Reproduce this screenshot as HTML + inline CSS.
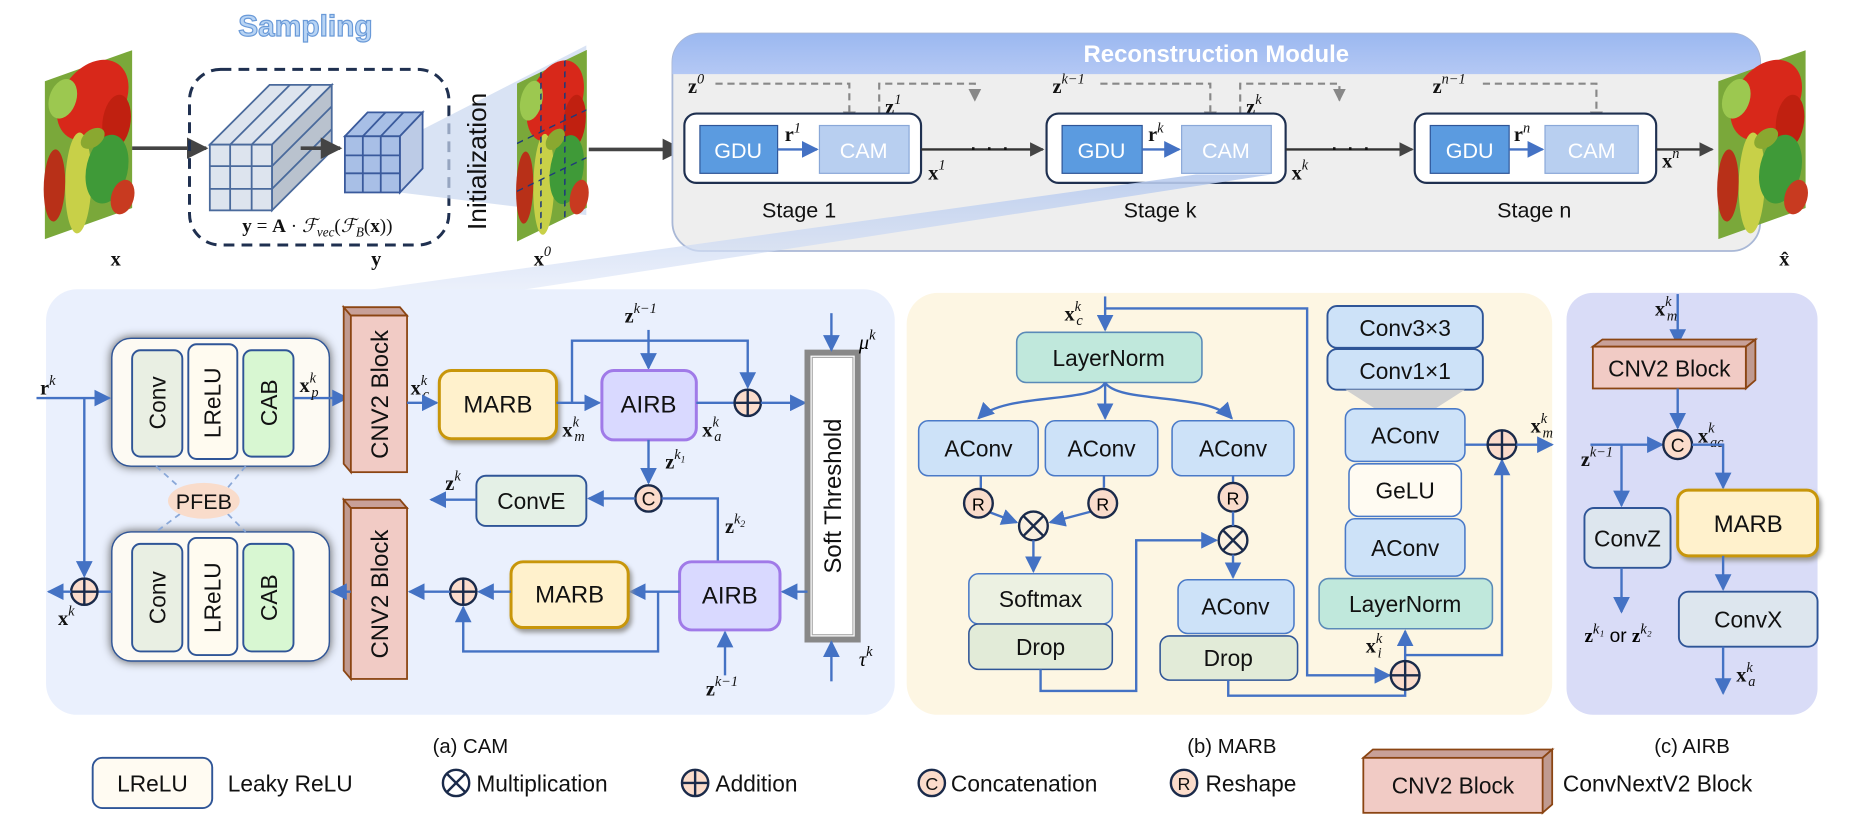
<!DOCTYPE html>
<html><head><meta charset="utf-8"><style>
html,body{margin:0;padding:0;background:#fff;}
svg{display:block;}
.t{font-family:"Liberation Sans",sans-serif;fill:#111;}
.m{font-family:"Liberation Serif",serif;font-weight:bold;fill:#111;font-size:17px;}
.mi{font-family:"Liberation Serif",serif;font-style:italic;font-weight:normal;font-size:12px;}
.ln{stroke:#4472c4;stroke-width:2;fill:none;}
.bx{stroke:#2f5597;stroke-width:1.6;}
</style></head><body>
<svg width="1866" height="820" viewBox="0 0 1560 686" xmlns="http://www.w3.org/2000/svg">
<defs>
<marker id="a" viewBox="0 0 10 10" refX="9" refY="5" markerWidth="7" markerHeight="7" orient="auto-start-reverse"><path d="M0,0L10,5L0,10z" fill="#4472c4"/></marker>
<marker id="ad" viewBox="0 0 10 10" refX="9" refY="5" markerWidth="6" markerHeight="6" orient="auto"><path d="M0,0L10,5L0,10z" fill="#444"/></marker>
<marker id="ag" viewBox="0 0 10 10" refX="9" refY="5" markerWidth="6" markerHeight="6" orient="auto"><path d="M0,0L10,5L0,10z" fill="#888"/></marker>
<g id="pep">
<rect x="0" y="0" width="73" height="132" fill="#7aa83a"/>
<ellipse cx="40" cy="30" rx="30" ry="32" fill="#d8281a"/>
<ellipse cx="60" cy="55" rx="12" ry="22" fill="#c02010"/>
<ellipse cx="15" cy="20" rx="12" ry="16" fill="#9cc850"/>
<ellipse cx="28" cy="95" rx="11" ry="42" fill="#c8d048"/>
<ellipse cx="52" cy="92" rx="18" ry="28" fill="#3f9a38"/>
<ellipse cx="8" cy="90" rx="9" ry="30" fill="#b83018"/>
<ellipse cx="65" cy="120" rx="10" ry="14" fill="#c83a20"/>
<ellipse cx="40" cy="62" rx="10" ry="8" fill="#8aa830"/>
</g>
<linearGradient id="hd" x1="0" y1="0" x2="0" y2="1"><stop offset="0" stop-color="#9bb8f0"/><stop offset="1" stop-color="#b4c8f4"/></linearGradient>
<linearGradient id="wedge" x1="0" y1="0" x2="0" y2="1"><stop offset="0" stop-color="#b8cbee" stop-opacity=".9"/><stop offset="1" stop-color="#dfe7f8" stop-opacity=".6"/></linearGradient>
</defs>

<!-- ================= TOP ================= -->
<g transform="translate(37,68) skewY(-19.6)"><use href="#pep"/></g>
<text class="m" x="92" y="222">x</text>
<line x1="110" y1="124" x2="172" y2="124" stroke="#444" stroke-width="3" marker-end="url(#ad)"/>

<text x="255" y="30" text-anchor="middle" font-family="Liberation Sans,sans-serif" font-size="25" font-weight="bold" fill="#b8d4f4" stroke="#6a9ad8" stroke-width="1">Sampling</text>
<rect x="158" y="58" width="217" height="147" rx="26" fill="none" stroke="#1f3050" stroke-width="2.5" stroke-dasharray="9,6"/>

<!-- big cube -->
<g stroke="#4a6a9c" stroke-width="1.5">
<polygon points="175,121 227,121 277,71 225,71" fill="#dde4ee"/>
<polygon points="227,121 277,71 277,126 227,176" fill="#b9c2ce"/>
<rect x="175" y="121" width="52" height="55" fill="#dde4ee"/>
<line x1="192" y1="121" x2="192" y2="176"/><line x1="210" y1="121" x2="210" y2="176"/>
<line x1="175" y1="139" x2="227" y2="139"/><line x1="175" y1="158" x2="227" y2="158"/>
<line x1="192" y1="121" x2="242" y2="71"/><line x1="210" y1="121" x2="260" y2="71"/>
<line x1="227" y1="139" x2="277" y2="89"/><line x1="227" y1="158" x2="277" y2="108"/>
</g>
<line x1="251" y1="124" x2="284" y2="124" stroke="#444" stroke-width="3" marker-end="url(#ad)"/>
<!-- projection -->
<polygon points="334,118 490,38 490,180 334,161" fill="#c9d7f0" opacity=".7"/>
<!-- small cube -->
<g stroke="#3a5a9c" stroke-width="1.5">
<polygon points="288,114 334,114 353,94 307,94" fill="#a8bfe6"/>
<polygon points="334,114 353,94 353,141 334,161" fill="#bccbe6"/>
<rect x="288" y="114" width="46" height="47" fill="#a8bfe6"/>
<line x1="303" y1="114" x2="303" y2="161"/><line x1="318" y1="114" x2="318" y2="161"/>
<line x1="288" y1="130" x2="334" y2="130"/><line x1="288" y1="145" x2="334" y2="145"/>
<line x1="303" y1="114" x2="322" y2="94"/><line x1="318" y1="114" x2="337" y2="94"/>
</g>
<text x="265" y="194" text-anchor="middle" font-family="Liberation Serif,serif" font-size="16" fill="#111"><tspan font-weight="bold">y</tspan> = <tspan font-weight="bold">A</tspan> · <tspan font-style="italic">ℱ</tspan><tspan font-size="11" font-style="italic" dy="4">vec</tspan><tspan dy="-4">(</tspan><tspan font-style="italic">ℱ</tspan><tspan font-size="11" font-style="italic" dy="4">B</tspan><tspan dy="-4">(</tspan><tspan font-weight="bold">x</tspan>))</text>
<text class="m" x="310" y="222">y</text>
<text transform="translate(406,135) rotate(-90)" text-anchor="middle" class="t" font-size="22">Initialization</text>

<!-- x0 image -->
<g transform="translate(432,70) skewY(-25.8)"><use href="#pep" transform="scale(0.8,1)"/>
<g stroke="#1f3a7a" stroke-width="1.3" stroke-dasharray="5,4" fill="none"><line x1="20" y1="0" x2="20" y2="132"/><line x1="40" y1="0" x2="40" y2="132"/><line x1="0" y1="50" x2="58" y2="50"/><line x1="0" y1="90" x2="58" y2="90"/></g></g>
<text class="m" x="446" y="222">x<tspan class="mi" dy="-8">0</tspan></text>
<line x1="492" y1="125" x2="570" y2="125" stroke="#444" stroke-width="3" marker-end="url(#ad)"/>

<!-- Reconstruction module -->
<rect x="562" y="28" width="910" height="182" rx="24" fill="#eeeeee" stroke="#a9b8d6" stroke-width="1.5"/>
<path d="M562,62 V52 a24,24 0 0 1 24,-24 H1448 a24,24 0 0 1 24,24 V62 Z" fill="url(#hd)"/>
<text x="1017" y="52" text-anchor="middle" font-family="Liberation Sans,sans-serif" font-weight="bold" font-size="20" fill="#fff">Reconstruction Module</text>

<g stroke="#888" stroke-width="1.8" stroke-dasharray="6,4" fill="none">
<path d="M598,70 H710 V103" marker-end="url(#ag)"/>
<path d="M735,105 V70 H815 V84" marker-end="url(#ag)"/>
<path d="M920,70 H1012 V103" marker-end="url(#ag)"/>
<path d="M1037,105 V70 H1120 V84" marker-end="url(#ag)"/>
<path d="M1240,70 H1335 V103" marker-end="url(#ag)"/>
</g>
<text class="m" x="575" y="78">z<tspan class="mi" dy="-8">0</tspan></text>
<text class="m" x="740" y="95">z<tspan class="mi" dy="-8">1</tspan></text>
<text class="m" x="880" y="78">z<tspan class="mi" dy="-8">k−1</tspan></text>
<text class="m" x="1042" y="95">z<tspan class="mi" dy="-8">k</tspan></text>
<text class="m" x="1198" y="78">z<tspan class="mi" dy="-8">n−1</tspan></text>

<g>
<rect x="572" y="95" width="198" height="58" rx="10" fill="#fff" stroke="#1f3050" stroke-width="1.8"/>
<rect x="585" y="105" width="65" height="40" fill="#5b9be0" stroke="#2f5597"/><text x="617" y="132" text-anchor="middle" class="t" font-size="18" style="fill:#fff">GDU</text>
<line x1="650" y1="125" x2="683" y2="125" class="ln" marker-end="url(#a)"/>
<text class="m" x="656" y="118" font-size="14">r<tspan class="mi" dy="-7">1</tspan></text>
<rect x="685" y="105" width="75" height="40" fill="#b8cff0" stroke="#8aa8d8"/><text x="722" y="132" text-anchor="middle" class="t" font-size="18" style="fill:#fff">CAM</text>
<line x1="770" y1="125" x2="872" y2="125" stroke="#333" stroke-width="2" marker-end="url(#ad)"/>
<text class="m" x="776" y="150">x<tspan class="mi" dy="-8">1</tspan></text>
<text x="810" y="130" class="t" font-size="22">· · ·</text>
<text x="668" y="182" text-anchor="middle" class="t" font-size="18">Stage 1</text>

<rect x="875" y="95" width="200" height="58" rx="10" fill="#fff" stroke="#1f3050" stroke-width="1.8"/>
<rect x="888" y="105" width="67" height="40" fill="#5b9be0" stroke="#2f5597"/><text x="921" y="132" text-anchor="middle" class="t" font-size="18" style="fill:#fff">GDU</text>
<line x1="955" y1="125" x2="986" y2="125" class="ln" marker-end="url(#a)"/>
<text class="m" x="960" y="118" font-size="14">r<tspan class="mi" dy="-7">k</tspan></text>
<rect x="988" y="105" width="75" height="40" fill="#b8cff0" stroke="#8aa8d8"/><text x="1025" y="132" text-anchor="middle" class="t" font-size="18" style="fill:#fff">CAM</text>
<line x1="1075" y1="125" x2="1181" y2="125" stroke="#333" stroke-width="2" marker-end="url(#ad)"/>
<text class="m" x="1080" y="150">x<tspan class="mi" dy="-8">k</tspan></text>
<text x="1112" y="130" class="t" font-size="22">· · ·</text>
<text x="970" y="182" text-anchor="middle" class="t" font-size="18">Stage k</text>

<rect x="1183" y="95" width="202" height="58" rx="10" fill="#fff" stroke="#1f3050" stroke-width="1.8"/>
<rect x="1196" y="105" width="66" height="40" fill="#5b9be0" stroke="#2f5597"/><text x="1229" y="132" text-anchor="middle" class="t" font-size="18" style="fill:#fff">GDU</text>
<line x1="1262" y1="125" x2="1290" y2="125" class="ln" marker-end="url(#a)"/>
<text class="m" x="1266" y="118" font-size="14">r<tspan class="mi" dy="-7">n</tspan></text>
<rect x="1292" y="105" width="78" height="40" fill="#b8cff0" stroke="#8aa8d8"/><text x="1331" y="132" text-anchor="middle" class="t" font-size="18" style="fill:#fff">CAM</text>
<line x1="1385" y1="125" x2="1432" y2="125" stroke="#333" stroke-width="2" marker-end="url(#ad)"/>
<text class="m" x="1390" y="140">x<tspan class="mi" dy="-8">n</tspan></text>
<text x="1283" y="182" text-anchor="middle" class="t" font-size="18">Stage n</text>
</g>
<g transform="translate(1437,68) skewY(-19.6)"><use href="#pep"/></g>
<text class="m" x="1488" y="222">x̂</text>

<polygon points="1000,146 1063,146 420,245 290,245" fill="url(#wedge)"/>

<!-- ================= PANELS ================= -->
<rect x="38" y="242" width="710" height="356" rx="26" fill="#eaf0fd"/>
<rect x="758" y="245" width="540" height="353" rx="26" fill="#fdf6e3"/>
<rect x="1310" y="245" width="210" height="353" rx="22" fill="#d9dcf7"/>

<!-- ===== CAM ===== -->
<g>
<rect x="93" y="283" width="182" height="107" rx="16" fill="#fdfaf3" stroke="#2f5597" stroke-width="1.2" style="filter:drop-shadow(0 0 4px #555)"/>
<rect x="110" y="293" width="42" height="89" rx="7" fill="#e9efe3" class="bx"/>
<rect x="157" y="288" width="41" height="96" rx="7" fill="#fffbf0" class="bx"/>
<rect x="203" y="293" width="42" height="89" rx="7" fill="#d8f7d2" class="bx"/>
<text transform="translate(138,337) rotate(-90)" text-anchor="middle" class="t" font-size="19">Conv</text>
<text transform="translate(184,337) rotate(-90)" text-anchor="middle" class="t" font-size="19">LReLU</text>
<text transform="translate(231,337) rotate(-90)" text-anchor="middle" class="t" font-size="19">CAB</text>
</g>
<g>
<rect x="93" y="445" width="182" height="108" rx="16" fill="#fdfaf3" stroke="#2f5597" stroke-width="1.2" style="filter:drop-shadow(0 0 4px #555)"/>
<rect x="110" y="455" width="42" height="90" rx="7" fill="#e9efe3" class="bx"/>
<rect x="157" y="450" width="41" height="98" rx="7" fill="#fffbf0" class="bx"/>
<rect x="203" y="455" width="42" height="90" rx="7" fill="#d8f7d2" class="bx"/>
<text transform="translate(138,500) rotate(-90)" text-anchor="middle" class="t" font-size="19">Conv</text>
<text transform="translate(184,500) rotate(-90)" text-anchor="middle" class="t" font-size="19">LReLU</text>
<text transform="translate(231,500) rotate(-90)" text-anchor="middle" class="t" font-size="19">CAB</text>
</g>
<g stroke="#8aa8d8" stroke-width="1.5" stroke-dasharray="5,4"><line x1="130" y1="390" x2="150" y2="408"/><line x1="205" y1="390" x2="190" y2="408"/><line x1="150" y1="430" x2="130" y2="445"/><line x1="190" y1="430" x2="205" y2="445"/></g>
<ellipse cx="170" cy="419" rx="30" ry="15" fill="#f9dccb"/>
<text x="170" y="426" text-anchor="middle" class="t" font-size="18">PFEB</text>

<text class="m" x="33" y="330">r<tspan class="mi" dy="-8">k</tspan></text>
<line x1="30" y1="333" x2="91" y2="333" class="ln" marker-end="url(#a)"/>
<line x1="70" y1="333" x2="70" y2="482" class="ln" marker-end="url(#a)"/>
<line x1="245" y1="333" x2="290" y2="333" class="ln" marker-end="url(#a)"/>
<text class="m" x="250" y="328">x<tspan class="mi" dy="-8">k</tspan><tspan class="mi" x="260" dy="12">p</tspan></text>

<g stroke="#8b4513" stroke-width="1.5">
<polygon points="287,257 293,264 293,395 287,388" fill="#c09a90"/>
<polygon points="287,257 334,257 340,264 293,264" fill="#c8a098"/>
<rect x="293" y="264" width="47" height="131" fill="#f1cbc5"/>
<polygon points="287,418 293,425 293,568 287,561" fill="#c09a90"/>
<polygon points="287,418 334,418 340,425 293,425" fill="#c8a098"/>
<rect x="293" y="425" width="47" height="143" fill="#f1cbc5"/>
</g>
<text transform="translate(324,330) rotate(-90)" text-anchor="middle" class="t" font-size="20">CNV2 Block</text>
<text transform="translate(324,497) rotate(-90)" text-anchor="middle" class="t" font-size="20">CNV2 Block</text>

<text class="m" x="343" y="330">x<tspan class="mi" dy="-8">k</tspan><tspan class="mi" x="353" dy="12">c</tspan></text>
<line x1="340" y1="337" x2="365" y2="337" class="ln" marker-end="url(#a)"/>
<rect x="367" y="310" width="98" height="57" rx="10" fill="#fff1cc" stroke="#c8960a" stroke-width="2.5" style="filter:drop-shadow(2px 3px 2px #999)"/>
<text x="416" y="345" text-anchor="middle" class="t" font-size="20">MARB</text>
<line x1="465" y1="337" x2="501" y2="337" class="ln" marker-end="url(#a)"/>
<text class="m" x="470" y="365">x<tspan class="mi" dy="-8">k</tspan><tspan class="mi" x="480" dy="12">m</tspan></text>
<path d="M478,337 V285 H625 V324" class="ln" marker-end="url(#a)"/>
<text class="m" x="522" y="270">z<tspan class="mi" dy="-8">k−1</tspan></text>
<line x1="542" y1="276" x2="542" y2="308" class="ln" marker-end="url(#a)"/>
<rect x="503" y="310" width="79" height="58" rx="10" fill="#d9d9ff" stroke="#a07ae8" stroke-width="2.5"/>
<text x="542" y="345" text-anchor="middle" class="t" font-size="20">AIRB</text>
<text class="m" x="587" y="365">x<tspan class="mi" dy="-8">k</tspan><tspan class="mi" x="597" dy="12">a</tspan></text>
<line x1="582" y1="337" x2="614" y2="337" class="ln"/>
<g><circle cx="625" cy="337" r="11" fill="#fbdccb" stroke="#1a2a4a" stroke-width="2"/><path d="M614,337H636M625,326V348" stroke="#1a2a4a" stroke-width="2"/></g>
<line x1="636" y1="337" x2="673" y2="337" class="ln" marker-end="url(#a)"/>
<rect x="675" y="295" width="42" height="240" fill="#fff" stroke="#888" stroke-width="5"/>
<rect x="679" y="299" width="34" height="232" fill="#fff" stroke="#aaa" stroke-width="1"/>
<text transform="translate(703,415) rotate(-90)" text-anchor="middle" class="t" font-size="20">Soft Threshold</text>
<line x1="695" y1="262" x2="695" y2="293" class="ln" marker-end="url(#a)"/>
<text x="718" y="292" font-family="Liberation Serif,serif" font-style="italic" font-size="17">μ<tspan font-size="12" dy="-8">k</tspan></text>
<line x1="695" y1="570" x2="695" y2="537" class="ln" marker-end="url(#a)"/>
<text x="718" y="557" font-family="Liberation Serif,serif" font-style="italic" font-size="17">τ<tspan font-size="12" dy="-8">k</tspan></text>

<line x1="542" y1="368" x2="542" y2="404" class="ln" marker-end="url(#a)"/>
<text class="m" x="556" y="392">z<tspan class="mi" dy="-8">k</tspan><tspan font-size="8" font-style="italic" font-weight="normal" dy="3">1</tspan></text>
<g><circle cx="542" cy="417" r="11" fill="#fbdccb" stroke="#1a2a4a" stroke-width="2"/><text x="542" y="423" text-anchor="middle" class="t" font-size="16">C</text></g>
<line x1="531" y1="417" x2="492" y2="417" class="ln" marker-end="url(#a)"/>
<rect x="398" y="398" width="92" height="42" rx="8" fill="#e4f0e6" class="bx"/>
<text x="444" y="426" text-anchor="middle" class="t" font-size="19">ConvE</text>
<line x1="398" y1="418" x2="360" y2="418" class="ln" marker-end="url(#a)"/>
<text class="m" x="372" y="410">z<tspan class="mi" dy="-8">k</tspan></text>
<path d="M553,417 H600 V470" class="ln"/>
<text class="m" x="606" y="446">z<tspan class="mi" dy="-8">k</tspan><tspan font-size="8" font-style="italic" font-weight="normal" dy="3">2</tspan></text>

<rect x="568" y="470" width="84" height="57" rx="10" fill="#d9d9ff" stroke="#a07ae8" stroke-width="2.5"/>
<text x="610" y="505" text-anchor="middle" class="t" font-size="20">AIRB</text>
<line x1="675" y1="495" x2="654" y2="495" class="ln" marker-end="url(#a)"/>
<line x1="568" y1="495" x2="527" y2="495" class="ln" marker-end="url(#a)"/>
<rect x="427" y="470" width="98" height="55" rx="10" fill="#fff1cc" stroke="#c8960a" stroke-width="2.5" style="filter:drop-shadow(2px 3px 2px #999)"/>
<text x="476" y="504" text-anchor="middle" class="t" font-size="20">MARB</text>
<line x1="427" y1="495" x2="400" y2="495" class="ln" marker-end="url(#a)"/>
<g><circle cx="387" cy="495" r="11" fill="#fbdccb" stroke="#1a2a4a" stroke-width="2"/><path d="M376,495H398M387,484V506" stroke="#1a2a4a" stroke-width="2"/></g>
<line x1="376" y1="495" x2="342" y2="495" class="ln" marker-end="url(#a)"/>
<path d="M550,495 V545 H387 V508" class="ln" marker-end="url(#a)"/>
<line x1="606" y1="565" x2="606" y2="529" class="ln" marker-end="url(#a)"/>
<text class="m" x="590" y="582">z<tspan class="mi" dy="-8">k−1</tspan></text>

<line x1="293" y1="495" x2="277" y2="495" class="ln" marker-end="url(#a)"/>
<line x1="93" y1="495" x2="81" y2="495" class="ln"/>
<g><circle cx="70" cy="495" r="11" fill="#fbdccb" stroke="#1a2a4a" stroke-width="2"/><path d="M59,495H81M70,484V506" stroke="#1a2a4a" stroke-width="2"/></g>
<line x1="59" y1="495" x2="40" y2="495" class="ln" marker-end="url(#a)"/>
<text class="m" x="48" y="523">x<tspan class="mi" dy="-8">k</tspan></text>
<text x="393" y="630" text-anchor="middle" class="t" font-size="17">(a) CAM</text>

<!-- ===== MARB ===== -->
<text class="m" x="890" y="268">x<tspan class="mi" dy="-8">k</tspan><tspan class="mi" x="900" dy="12">c</tspan></text>
<line x1="924" y1="248" x2="924" y2="276" class="ln" marker-end="url(#a)"/>
<path d="M924,258 H1093 V565 H1162" class="ln" stroke-width="1.5" marker-end="url(#a)"/>
<rect x="850" y="278" width="155" height="42" rx="8" fill="#c0e8dc" stroke="#5a8ab8" stroke-width="1.3"/>
<text x="927" y="306" text-anchor="middle" class="t" font-size="19">LayerNorm</text>
<path d="M924,320 C915,338 840,328 818,350" class="ln" stroke-width="1.5" marker-end="url(#a)"/>
<line x1="924" y1="320" x2="924" y2="350" class="ln" stroke-width="1.5" marker-end="url(#a)"/>
<path d="M924,320 C935,338 1010,328 1030,350" class="ln" stroke-width="1.5" marker-end="url(#a)"/>
<g fill="#cde2f8" stroke="#4a7ac8" stroke-width="1.3">
<rect x="768" y="352" width="100" height="46" rx="8"/><rect x="874" y="352" width="94" height="46" rx="8"/><rect x="980" y="352" width="102" height="46" rx="8"/>
</g>
<g class="t" font-size="19" text-anchor="middle"><text x="818" y="382">AConv</text><text x="921" y="382">AConv</text><text x="1031" y="382">AConv</text></g>
<path d="M820,398 V410" class="ln" stroke-width="1.5"/>
<path d="M923,398 V408" class="ln" stroke-width="1.5"/>
<line x1="1031" y1="398" x2="1031" y2="404" class="ln" stroke-width="1.5"/>
<line x1="826" y1="428" x2="850" y2="437" class="ln" stroke-width="1.5" marker-end="url(#a)"/>
<line x1="912" y1="428" x2="878" y2="437" class="ln" stroke-width="1.5" marker-end="url(#a)"/>
<g font-family="Liberation Sans,sans-serif" font-size="15" text-anchor="middle">
<circle cx="818" cy="421" r="12" fill="#f9dccb" stroke="#1a2a4a" stroke-width="2"/><text x="818" y="427">R</text>
<circle cx="922" cy="421" r="12" fill="#f9dccb" stroke="#1a2a4a" stroke-width="2"/><text x="922" y="427">R</text>
<circle cx="1031" cy="416" r="12" fill="#f9dccb" stroke="#1a2a4a" stroke-width="2"/><text x="1031" y="422">R</text>
</g>
<g stroke="#1a2a4a" stroke-width="2"><circle cx="864" cy="440" r="12" fill="#faf0e0"/><path d="M856,432L872,448M872,432L856,448"/>
<circle cx="1031" cy="452" r="12" fill="#faf0e0"/><path d="M1023,444L1039,460M1039,444L1023,460"/></g>
<line x1="1031" y1="428" x2="1031" y2="440" class="ln" stroke-width="1.5"/>
<line x1="864" y1="452" x2="864" y2="478" class="ln" stroke-width="1.5" marker-end="url(#a)"/>
<line x1="1031" y1="464" x2="1031" y2="483" class="ln" stroke-width="1.5" marker-end="url(#a)"/>
<rect x="810" y="480" width="120" height="42" rx="8" fill="#ecf1e2" stroke="#4a7ac8" stroke-width="1.3"/>
<text x="870" y="508" text-anchor="middle" class="t" font-size="19">Softmax</text>
<rect x="810" y="522" width="120" height="38" rx="8" fill="#e2ebd8" stroke="#2f5597" stroke-width="1.3"/>
<text x="870" y="548" text-anchor="middle" class="t" font-size="19">Drop</text>
<path d="M870,560 V578 H950 V452 H1017" class="ln" stroke-width="1.5" marker-end="url(#a)"/>
<rect x="985" y="485" width="97" height="45" rx="8" fill="#cde2f8" stroke="#4a7ac8" stroke-width="1.3"/>
<text x="1033" y="514" text-anchor="middle" class="t" font-size="19">AConv</text>
<rect x="970" y="532" width="115" height="37" rx="8" fill="#e2ebd8" stroke="#2f5597" stroke-width="1.3"/>
<text x="1027" y="557" text-anchor="middle" class="t" font-size="19">Drop</text>
<path d="M1027,569 V582 H1175 V577" class="ln" stroke-width="1.5"/>

<g fill="#cde2f8" stroke="#2f5597" stroke-width="1.6">
<rect x="1110" y="256" width="130" height="35" rx="8"/><rect x="1110" y="292" width="130" height="34" rx="8"/></g>
<text x="1175" y="281" text-anchor="middle" class="t" font-size="19">Conv3×3</text>
<text x="1175" y="317" text-anchor="middle" class="t" font-size="19">Conv1×1</text>
<polygon points="1125,326 1225,326 1200,342 1150,342" fill="#d0d0d0"/>
<rect x="1125" y="342" width="100" height="44" rx="8" fill="#cde2f8" stroke="#4a7ac8" stroke-width="1.3"/>
<text x="1175" y="371" text-anchor="middle" class="t" font-size="19">AConv</text>
<rect x="1128" y="388" width="94" height="44" rx="8" fill="#fffbf2" stroke="#4a7ac8" stroke-width="1.3"/>
<text x="1175" y="417" text-anchor="middle" class="t" font-size="19">GeLU</text>
<rect x="1125" y="434" width="100" height="48" rx="8" fill="#cde2f8" stroke="#4a7ac8" stroke-width="1.3"/>
<text x="1175" y="465" text-anchor="middle" class="t" font-size="19">AConv</text>
<rect x="1103" y="484" width="145" height="42" rx="8" fill="#c0e8dc" stroke="#5a8ab8" stroke-width="1.3"/>
<text x="1175" y="512" text-anchor="middle" class="t" font-size="19">LayerNorm</text>
<line x1="1175" y1="553" x2="1175" y2="528" class="ln" stroke-width="1.5" marker-end="url(#a)"/>
<path d="M1175,548 H1256 V385" class="ln" stroke-width="1.5" marker-end="url(#a)"/>
<g><circle cx="1175" cy="565" r="12" fill="#fbdccb" stroke="#1a2a4a" stroke-width="2"/><path d="M1163,565H1187M1175,553V577" stroke="#1a2a4a" stroke-width="2"/></g>
<text class="m" x="1142" y="546">x<tspan class="mi" dy="-8">k</tspan><tspan class="mi" x="1152" dy="12">i</tspan></text>
<line x1="1225" y1="372" x2="1244" y2="372" class="ln" stroke-width="1.5"/>
<g><circle cx="1256" cy="372" r="12" fill="#fbdccb" stroke="#1a2a4a" stroke-width="2"/><path d="M1244,372H1268M1256,360V384" stroke="#1a2a4a" stroke-width="2"/></g>
<line x1="1268" y1="372" x2="1298" y2="372" class="ln" stroke-width="1.5" marker-end="url(#a)"/>
<text class="m" x="1280" y="362">x<tspan class="mi" dy="-8">k</tspan><tspan class="mi" x="1290" dy="12">m</tspan></text>
<text x="1030" y="630" text-anchor="middle" class="t" font-size="17">(b) MARB</text>

<!-- ===== AIRB ===== -->
<text class="m" x="1384" y="264">x<tspan class="mi" dy="-8">k</tspan><tspan class="mi" x="1394" dy="12">m</tspan></text>
<line x1="1403" y1="246" x2="1403" y2="288" class="ln" marker-end="url(#a)"/>
<g stroke="#8b4513" stroke-width="1.5">
<polygon points="1332,290 1340,284 1468,284 1460,290" fill="#c8a098"/>
<polygon points="1460,290 1468,284 1468,318 1460,325" fill="#c09a90"/>
<rect x="1332" y="290" width="128" height="35" fill="#f1cbc5"/>
</g>
<text x="1396" y="315" text-anchor="middle" class="t" font-size="19">CNV2 Block</text>
<line x1="1403" y1="325" x2="1403" y2="358" class="ln" marker-end="url(#a)"/>
<text class="m" x="1420" y="370">x<tspan class="mi" dy="-8">k</tspan><tspan class="mi" x="1430" dy="12">ac</tspan></text>
<line x1="1330" y1="372" x2="1390" y2="372" class="ln" marker-end="url(#a)"/>
<line x1="1356" y1="372" x2="1356" y2="423" class="ln" marker-end="url(#a)"/>
<text class="m" x="1322" y="390">z<tspan class="mi" dy="-8">k−1</tspan></text>
<g><circle cx="1403" cy="372" r="12" fill="#fbdccb" stroke="#1a2a4a" stroke-width="2"/><text x="1403" y="378" text-anchor="middle" class="t" font-size="16">C</text></g>
<path d="M1415,372 H1441 V408" class="ln" marker-end="url(#a)"/>
<rect x="1325" y="425" width="72" height="50" rx="8" fill="#dde6ee" class="bx"/>
<text x="1361" y="457" text-anchor="middle" class="t" font-size="19">ConvZ</text>
<line x1="1356" y1="475" x2="1356" y2="512" class="ln" marker-end="url(#a)"/>
<text x="1325" y="537" font-family="Liberation Serif,serif" font-weight="bold" font-size="16">z<tspan class="mi" font-size="11" dy="-7">k₁</tspan><tspan font-family="Liberation Sans,sans-serif" font-weight="normal" dy="7"> or </tspan>z<tspan class="mi" font-size="11" dy="-7">k₂</tspan></text>
<rect x="1403" y="410" width="117" height="55" rx="9" fill="#fff1cc" stroke="#c8960a" stroke-width="2.5" style="filter:drop-shadow(2px 3px 2px #999)"/>
<text x="1462" y="445" text-anchor="middle" class="t" font-size="20">MARB</text>
<line x1="1441" y1="465" x2="1441" y2="493" class="ln" marker-end="url(#a)"/>
<rect x="1404" y="495" width="116" height="46" rx="8" fill="#dde6ee" class="bx"/>
<text x="1462" y="525" text-anchor="middle" class="t" font-size="19">ConvX</text>
<line x1="1441" y1="541" x2="1441" y2="580" class="ln" marker-end="url(#a)"/>
<text class="m" x="1452" y="570">x<tspan class="mi" dy="-8">k</tspan><tspan class="mi" x="1462" dy="12">a</tspan></text>
<text x="1415" y="630" text-anchor="middle" class="t" font-size="17">(c) AIRB</text>

<!-- ===== Legend ===== -->
<rect x="77" y="634" width="100" height="42" rx="8" fill="#fffbf2" stroke="#2f5597" stroke-width="1.6"/>
<text x="127" y="662" text-anchor="middle" class="t" font-size="19">LReLU</text>
<text x="190" y="662" class="t" font-size="19">Leaky ReLU</text>
<g stroke="#1a2a4a" stroke-width="2"><circle cx="381" cy="655" r="11" fill="#fff"/><path d="M373,647L389,663M389,647L373,663"/></g>
<text x="398" y="662" class="t" font-size="19">Multiplication</text>
<g><circle cx="581" cy="655" r="11" fill="#fbdccb" stroke="#1a2a4a" stroke-width="2"/><path d="M570,655H592M581,644V666" stroke="#1a2a4a" stroke-width="2"/></g>
<text x="598" y="662" class="t" font-size="19">Addition</text>
<g><circle cx="779" cy="655" r="11" fill="#fbdccb" stroke="#1a2a4a" stroke-width="2"/><text x="779" y="661" text-anchor="middle" class="t" font-size="15">C</text></g>
<text x="795" y="662" class="t" font-size="19">Concatenation</text>
<g><circle cx="990" cy="655" r="11" fill="#fbdccb" stroke="#1a2a4a" stroke-width="2"/><text x="990" y="661" text-anchor="middle" class="t" font-size="15">R</text></g>
<text x="1008" y="662" class="t" font-size="19">Reshape</text>
<g stroke="#8b4513" stroke-width="1.5">
<polygon points="1140,634 1148,627 1298,627 1290,634" fill="#c8a098"/>
<polygon points="1290,634 1298,627 1298,673 1290,680" fill="#c09a90"/>
<rect x="1140" y="634" width="150" height="46" fill="#f1cbc5"/>
</g>
<text x="1215" y="664" text-anchor="middle" class="t" font-size="19">CNV2 Block</text>
<text x="1307" y="662" class="t" font-size="19">ConvNextV2 Block</text>
</svg>
</body></html>
